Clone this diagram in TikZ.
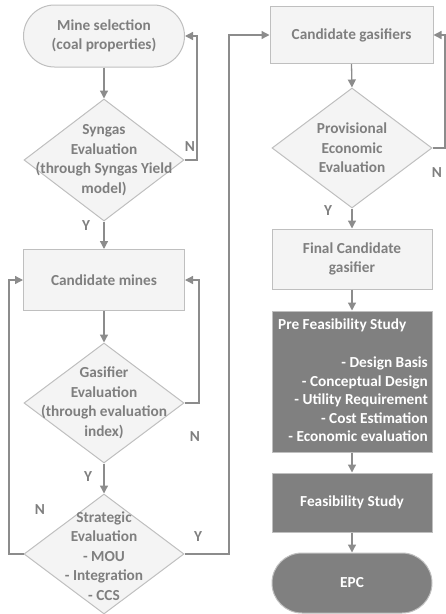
\documentclass[tikz,border=0pt]{standalone}
\usepackage{fontspec}
\setmainfont{Carlito}
\usetikzlibrary{shapes.geometric,arrows.meta}
\definecolor{lfill}{HTML}{F4F4F4}
\definecolor{lborder}{HTML}{BFBFBF}
\definecolor{dfill}{HTML}{808080}
\definecolor{tgray}{HTML}{7F7F7F}
\definecolor{cgray}{HTML}{8C8C8C}
\tikzset{
  every node/.style={font=\fontsize{15.3}{19.5}\selectfont\bfseries},
  lbox/.style={draw=lborder, fill=lfill, line width=1pt, text=tgray, minimum width=160pt, align=center, inner sep=0pt},
  dbox/.style={draw=lborder, fill=dfill, line width=1pt, text=white, minimum width=160pt, align=center, inner sep=0pt},
  dia/.style={diamond, draw=lborder, fill=lfill, line width=1pt, minimum width=160pt, minimum height=120pt, inner sep=0pt},
  dtext/.style={text=tgray, align=center, inner sep=0pt},
  conn/.style={draw=cgray, line width=1.3pt, -{Triangle[length=8pt,width=8pt]}},
  lab/.style={text=tgray, inner sep=0pt}
}
\begin{document}
\begin{tikzpicture}[x=1pt,y=-1pt]
\useasboundingbox (0,0) rectangle (446,614);
% left column
\node[lbox, minimum height=62pt, rounded corners=31pt, minimum width=161pt] (mine) at (104,36) {Mine selection\\(coal properties)};
\node[dia, minimum height=122pt] (syn) at (104,160) {};
\node[dtext] (syntext) at (104,160) {Syngas\\Evaluation\\(through Syngas Yield\\model)};
\node[lbox, minimum height=61pt, minimum width=161pt] (cmines) at (104,280) {Candidate mines};
\node[dia] (gas) at (104,403) {};
\node[dtext] (gastext) at (104,403) {Gasifier\\Evaluation\\(through evaluation\\index)};
\node[dia] (strat) at (104,554) {};
\node[dtext] (strattext) at (104,556) {Strategic\\Evaluation\\- MOU\\- Integration\\- CCS};
% right column
\node[lbox, minimum height=57pt, minimum width=163pt] (cgas) at (351.5,35) {Candidate gasifiers};
\node[dia] (prov) at (352,148) {};
\node[dtext] (provtext) at (352,148) {Provisional\\Economic\\Evaluation};
\node[lbox, minimum height=60pt] (final) at (352,259) {Final Candidate\\gasifier};
\node[dbox, minimum height=141pt] (pre) at (352,381.5) {};
\node[text=white, anchor=west, inner sep=0pt] (pretitle) at (278,325) {Pre Feasibility Study};
\node[text=white, anchor=north east, align=right, inner sep=0pt, font=\fontsize{15.3}{18.5}\selectfont\bfseries] (prelist) at (428,357) {- Design Basis\\- Conceptual Design\\- Utility Requirement\\- Cost Estimation\\- Economic evaluation};
\node[dbox, minimum height=59pt] (feas) at (352,502.5) {Feasibility Study};
\node[dbox, minimum height=60pt, rounded corners=30pt] (epc) at (352,583) {EPC};
% connectors
\draw[conn] (mine.south) -- (syn.north);
\draw[conn] (syn.east) -- (197,160) |- (mine.east);
\draw[conn] (syn.south) -- (cmines.north);
\draw[conn] (cmines.south) -- (gas.north);
\draw[conn] (gas.east) -- (199,403) |- (cmines.east);
\draw[conn] (gas.south) -- (strat.north);
\draw[conn] (strat.west) -- (9,554) |- (cmines.west);
\draw[conn] (strat.east) -- (229,554) |- (cgas.west);
\draw[conn] (cgas.south) -- (prov.north);
\draw[conn] (prov.east) -- (445,148) |- (cgas.east);
\draw[conn] (prov.south) -- (final.north);
\draw[conn] (final.south) -- (pre.north);
\draw[conn] (pre.south) -- (feas.north);
\draw[conn] (feas.south) -- (epc.north);
% labels
\node[lab] (n1) at (190,147) {N};
\node[lab] (y1) at (86,226) {Y};
\node[lab] (n2) at (195,437) {N};
\node[lab] (y2) at (88,477) {Y};
\node[lab] (n3) at (40,510) {N};
\node[lab] (y3) at (198,537) {Y};
\node[lab] (n4) at (437,173) {N};
\node[lab] (y4) at (328,211) {Y};
\end{tikzpicture}
\end{document}
